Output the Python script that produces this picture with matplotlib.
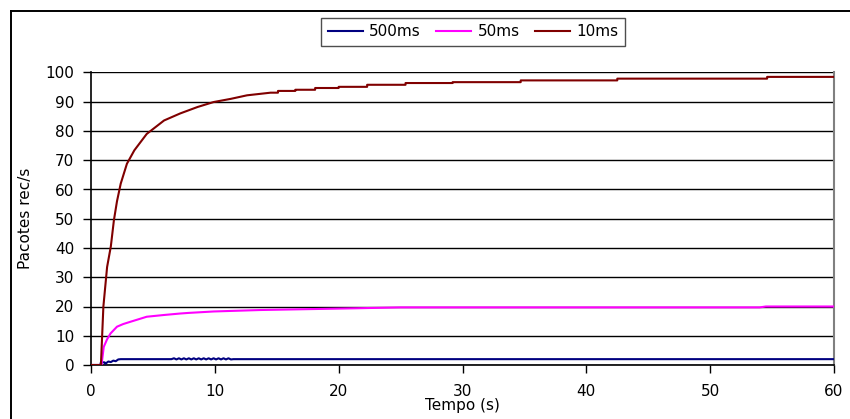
import matplotlib
matplotlib.use("Agg")
import matplotlib.pyplot as plt
from matplotlib.lines import Line2D

plt.rcParams['font.family'] = ['DejaVu Sans']

# ---- data ----
t_10ms = [0, 0.8, 0.85, 1.0, 1.3, 1.6, 1.85, 2.1, 2.4, 2.9, 3.5, 4.5, 5.9, 7.2, 8.6,
          9.9, 11.3, 12.6, 14.5, 15.1, 15.1, 16.5, 16.5, 18.1, 18.1, 20.0, 20.0,
          22.3, 22.3, 25.4, 25.4, 29.2, 29.2, 34.7, 34.7, 42.5, 42.5, 54.6, 54.6, 60]
v_10ms = [0, 0, 5, 20, 33.5, 40.5, 49.5, 56, 62, 68.8, 73.4, 79, 83.6, 86, 88.2,
          89.9, 91, 92.2, 93.1, 93.1, 93.7, 93.7, 94.1, 94.1, 94.7, 94.7, 95.1,
          95.1, 95.8, 95.8, 96.4, 96.4, 96.7, 96.7, 97.3, 97.3, 97.9, 97.9, 98.5, 98.5]

t_50ms = [0, 0.85, 1.03, 1.3, 1.58, 2.1, 2.6, 3.2, 4.5, 5.9, 7.2, 7.85, 9.9, 13.7,
          21.5, 25, 54, 54.5, 60]
v_50ms = [0, 0, 6.2, 8.8, 10.8, 13.1, 14.0, 14.8, 16.5, 17.1, 17.6, 17.8, 18.3, 18.8,
          19.4, 19.7, 19.7, 20.0, 20.0]

t_500ms = [0, 0.75, 0.8, 1.1, 1.15, 1.4, 1.6, 1.8, 2.0, 2.2, 2.4, 6.5,
           6.7, 6.9, 7.1, 7.3, 7.5, 7.7, 7.9, 8.1, 8.3, 8.5, 8.7, 8.9, 9.1, 9.3,
           9.5, 9.7, 9.9, 10.1, 10.3, 10.5, 10.7, 10.9, 11.1, 11.3, 11.5, 60]
v_500ms = [0, 0, 0.9, 0.9, 0.4, 1.2, 1.0, 1.5, 1.3, 1.9, 2.0, 2.0,
           2.3, 1.9, 2.3, 1.9, 2.3, 1.9, 2.3, 1.9, 2.3, 1.9, 2.3, 1.9, 2.3, 1.9,
           2.3, 1.9, 2.3, 1.9, 2.3, 1.9, 2.3, 1.9, 2.3, 1.9, 2.0, 2.0]

labels = ['500ms', '50ms', '10ms']
colors = ['#000080', '#FF00FF', '#800000']
x_ticks = [0, 10, 20, 30, 40, 50, 60]
y_ticks = [0, 10, 20, 30, 40, 50, 60, 70, 80, 90, 100]

FS = 11

fig = plt.figure(figsize=(8.5, 4.19), dpi=100)
ax = fig.add_axes([91 / 850, 1 - 365 / 419, (834 - 91) / 850, (365 - 72.5) / 419])

for t, v, lab, c in zip([t_500ms, t_50ms, t_10ms], [v_500ms, v_50ms, v_10ms], labels, colors):
    ax.plot(t, v, color=c, lw=1.5, label=lab, zorder=3)

ax.set_xlim(0, 60)
ax.set_ylim(0, 100)
ax.set_xticks(x_ticks)
ax.set_yticks(y_ticks)
ax.yaxis.grid(True, color='black', lw=1.0)
ax.set_axisbelow(True)
ax.tick_params(axis='both', direction='out', length=6, width=1, labelsize=FS, colors='black')
ax.tick_params(axis='y', pad=6)
ax.tick_params(axis='x', pad=8)
for s in ['left', 'bottom']:
    ax.spines[s].set_color('black')
    ax.spines[s].set_linewidth(1.2)
ax.spines['top'].set_visible(False)
ax.spines['right'].set_color('#808080')
ax.spines['right'].set_linewidth(1.5)

ax.set_ylabel('Pacotes rec/s', fontsize=FS, labelpad=9)
ax.set_xlabel('Tempo (s)', fontsize=FS, labelpad=-1)

leg = fig.legend(loc='center', bbox_to_anchor=(473 / 850, 1 - 32 / 419), ncol=3,
                 frameon=True, fancybox=False, fontsize=FS, handlelength=2.3,
                 columnspacing=1.0, handletextpad=0.4, borderpad=0.45)
leg.get_frame().set_edgecolor('#222222')
leg.get_frame().set_linewidth(1.0)

# outer chart border (top and left visible, rest cut off)
fig.add_artist(Line2D([11 / 850, 1.0], [1 - 11.5 / 419, 1 - 11.5 / 419], color='black', lw=1.4,
                      transform=fig.transFigure))
fig.add_artist(Line2D([11 / 850, 11 / 850], [0, 1 - 11.5 / 419], color='black', lw=1.4,
                      transform=fig.transFigure))

fig.savefig('out.png', dpi=100)
